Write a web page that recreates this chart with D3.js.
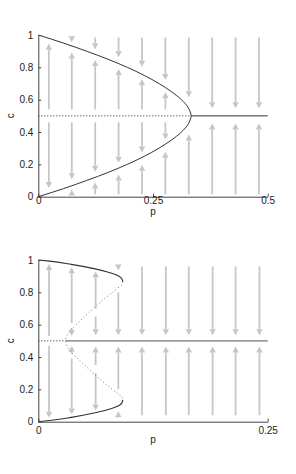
<!DOCTYPE html>
<html><head><meta charset="utf-8">
<script src="https://cdn.jsdelivr.net/npm/d3@7"></script>
<style>
body{margin:0;background:#fff}
svg{display:block}
text{font-family:"Liberation Sans",Arial,Helvetica,sans-serif;font-size:10px;fill:#222}
</style>
</head><body><svg id="chart" width="296" height="474"></svg>
<script>
// ---------- data: top panel ----------
const topXTicks = [0, 0.25, 0.5];
const topXTickLabels = ["0", "0.25", "0.5"];
const yTicks = [0, 0.2, 0.4, 0.6, 0.8, 1];
const yTickLabels = ["0", "0.2", "0.4", "0.6", "0.8", "1"];
// stable branches (p, c), ordered by c descending through the tip
const topCurveP = [0, 0.055, 0.105, 0.152, 0.194, 0.231, 0.263, 0.290, 0.312, 0.327, 0.331, 0.3333, 0.331, 0.327, 0.312, 0.290, 0.263, 0.231, 0.194, 0.152, 0.105, 0.055, 0];
const topCurveC = [1, 0.95, 0.90, 0.85, 0.80, 0.75, 0.70, 0.65, 0.60, 0.55, 0.525, 0.5, 0.475, 0.45, 0.40, 0.35, 0.30, 0.25, 0.20, 0.15, 0.10, 0.05, 0];
const topUnstableLine = [[0, 0.5], [0.3333, 0.5]];
const topStableLine = [[0.3333, 0.5], [0.5, 0.5]];
// arrows: p position, start c, end c (tip)
const topArrowP =    [0.023, 0.023, 0.073, 0.073, 0.073, 0.073, 0.124, 0.124, 0.124, 0.124, 0.175, 0.175, 0.175, 0.175, 0.226, 0.226, 0.226, 0.226, 0.277, 0.277, 0.277, 0.277, 0.328, 0.328, 0.379, 0.379, 0.430, 0.430, 0.481, 0.481];
const topArrowFrom = [0.54, 0.46, 0.985, 0.54, 0.46, 0.015, 0.985, 0.54, 0.46, 0.015, 0.985, 0.54, 0.46, 0.015, 0.985, 0.54, 0.46, 0.015, 0.985, 0.54, 0.46, 0.015, 0.985, 0.015, 0.985, 0.015, 0.985, 0.015, 0.985, 0.015];
const topArrowTo =   [0.946, 0.054, 0.955, 0.892, 0.108, 0.045, 0.912, 0.845, 0.155, 0.088, 0.862, 0.790, 0.210, 0.138, 0.803, 0.726, 0.274, 0.197, 0.722, 0.646, 0.354, 0.278, 0.615, 0.385, 0.547, 0.453, 0.547, 0.453, 0.547, 0.453];

// ---------- data: bottom panel ----------
const botXTicks = [0, 0.25];
const botXTickLabels = ["0", "0.25"];
const botStableUpperP = [0, 0.012, 0.036, 0.062, 0.080, 0.088, 0.0915, 0.092];
const botStableUpperC = [1, 0.993, 0.973, 0.945, 0.918, 0.900, 0.880, 0.865];
const botUnstableP = [0.092, 0.0915, 0.085, 0.072, 0.058, 0.045, 0.036, 0.031, 0.030, 0.031, 0.036, 0.045, 0.058, 0.072, 0.085, 0.0915, 0.092];
const botUnstableC = [0.865, 0.850, 0.820, 0.760, 0.690, 0.620, 0.570, 0.530, 0.500, 0.470, 0.430, 0.380, 0.310, 0.240, 0.180, 0.150, 0.135];
const botStableLowerP = [0.092, 0.0915, 0.088, 0.080, 0.062, 0.036, 0.012, 0];
const botStableLowerC = [0.135, 0.120, 0.100, 0.082, 0.055, 0.027, 0.007, 0];
const botUnstableLine = [[0, 0.5], [0.030, 0.5]];
const botStableLine = [[0.030, 0.5], [0.25, 0.5]];
const botArrowP =    [0.0117, 0.0117, 0.0364, 0.0364, 0.0364, 0.0364, 0.0625, 0.0625, 0.0625, 0.0625, 0.0872, 0.0872, 0.0872, 0.0872, 0.113, 0.113, 0.139, 0.139, 0.164, 0.164, 0.190, 0.190, 0.215, 0.215, 0.241, 0.241];
const botArrowFrom = [0.53, 0.47, 0.61, 0.58, 0.39, 0.42, 0.70, 0.65, 0.30, 0.35, 0.965, 0.80, 0.035, 0.20, 0.96, 0.04, 0.96, 0.04, 0.96, 0.04, 0.96, 0.04, 0.96, 0.04, 0.96, 0.04];
const botArrowTo =   [0.975, 0.025, 0.955, 0.530, 0.045, 0.470, 0.930, 0.535, 0.070, 0.465, 0.935, 0.535, 0.065, 0.465, 0.535, 0.465, 0.535, 0.465, 0.535, 0.465, 0.535, 0.465, 0.535, 0.465, 0.535, 0.465];

// ---------- drawing ----------
const svg = d3.select("#chart");
const ARROW = "#c6c6c6";
const AXIS = "#444";
const CURVE = "#333";

function panel(opt) {
  const x = d3.scaleLinear().domain([0, opt.xMax]).range([38.3, 267.7]);
  const y = d3.scaleLinear().domain([0, 1]).range([opt.y0, opt.y1]);
  const g = svg.append("g");

  // arrows
  const headL = 6, headW = 3.2;
  opt.arrowP.forEach((p, i) => {
    const px = x(p), ya = y(opt.arrowFrom[i]), yb = y(opt.arrowTo[i]);
    const dir = Math.sign(yb - ya);
    const base = yb - dir * headL;
    if ((base - ya) * dir > 0) {
      g.append("line").attr("x1", px).attr("x2", px).attr("y1", ya).attr("y2", base)
        .attr("stroke", ARROW).attr("stroke-width", 1.8);
    }
    g.append("path").attr("d", `M${px},${yb}L${px - headW},${base}L${px + headW},${base}Z`)
      .attr("fill", ARROW);
  });

  const line = d3.line().x(d => x(d[0])).y(d => y(d[1]));
  const curveLine = d3.line().x(d => x(d[0])).y(d => y(d[1])).curve(d3.curveMonotoneY);

  // horizontal c = 0.5
  g.append("path").attr("d", line(opt.unstableLine)).attr("fill", "none")
    .attr("stroke", "#222").attr("stroke-width", 1).attr("stroke-dasharray", "1,2");
  g.append("path").attr("d", line(opt.stableLine)).attr("fill", "none")
    .attr("stroke", opt.stableColor).attr("stroke-width", opt.stableWidth);

  opt.curves.forEach(cv => {
    const pts = cv.p.map((p, i) => [p, cv.c[i]]);
    g.append("path").attr("d", curveLine(pts)).attr("fill", "none")
      .attr("stroke", cv.color).attr("stroke-width", cv.width)
      .attr("stroke-dasharray", cv.dash || null);
  });

  // axes
  const ax = g.append("g").attr("transform", `translate(0,${opt.y0})`)
    .call(d3.axisBottom(x).tickValues(opt.xTicks).tickFormat((d, i) => opt.xTickLabels[i])
      .tickSizeInner(-3).tickSizeOuter(0).tickPadding(opt.xPad));
  const ay = g.append("g").attr("transform", `translate(38.3,0)`)
    .call(d3.axisLeft(y).tickValues(yTicks).tickFormat((d, i) => yTickLabels[i])
      .tickSizeInner(-3).tickSizeOuter(0).tickPadding(5));
  [ax, ay].forEach(a => {
    a.select(".domain").attr("stroke", AXIS);
    a.selectAll(".tick line").attr("stroke", AXIS);
    a.selectAll("text").attr("fill", "#222").style("font-size", "10px")
      .style("font-family", '"Liberation Sans", Arial, sans-serif');
  });

  g.append("text").attr("x", 153).attr("y", opt.pY).attr("text-anchor", "middle").text("p");
  g.append("text").attr("transform", `translate(14,${(opt.y0 + opt.y1) / 2}) rotate(-90)`)
    .attr("text-anchor", "middle").text("c");
}

panel({
  xMax: 0.5, y0: 196.7, y1: 35, xTicks: topXTicks, xTickLabels: topXTickLabels, xPad: 0, pY: 215,
  arrowP: topArrowP, arrowFrom: topArrowFrom, arrowTo: topArrowTo,
  unstableLine: topUnstableLine, stableLine: topStableLine, stableColor: CURVE, stableWidth: 1,
  curves: [{p: topCurveP, c: topCurveC, color: CURVE, width: 1}]
});
panel({
  xMax: 0.25, y0: 421.7, y1: 260, xTicks: botXTicks, xTickLabels: botXTickLabels, xPad: 5, pY: 443,
  arrowP: botArrowP, arrowFrom: botArrowFrom, arrowTo: botArrowTo,
  unstableLine: botUnstableLine, stableLine: botStableLine, stableColor: "#9a9a9a", stableWidth: 1.8,
  curves: [
    {p: botStableUpperP, c: botStableUpperC, color: CURVE, width: 1.1},
    {p: botUnstableP, c: botUnstableC, color: "#777", width: 1, dash: "1,2.5"},
    {p: botStableLowerP, c: botStableLowerC, color: CURVE, width: 1.1}
  ]
});
</script>
</body></html>
